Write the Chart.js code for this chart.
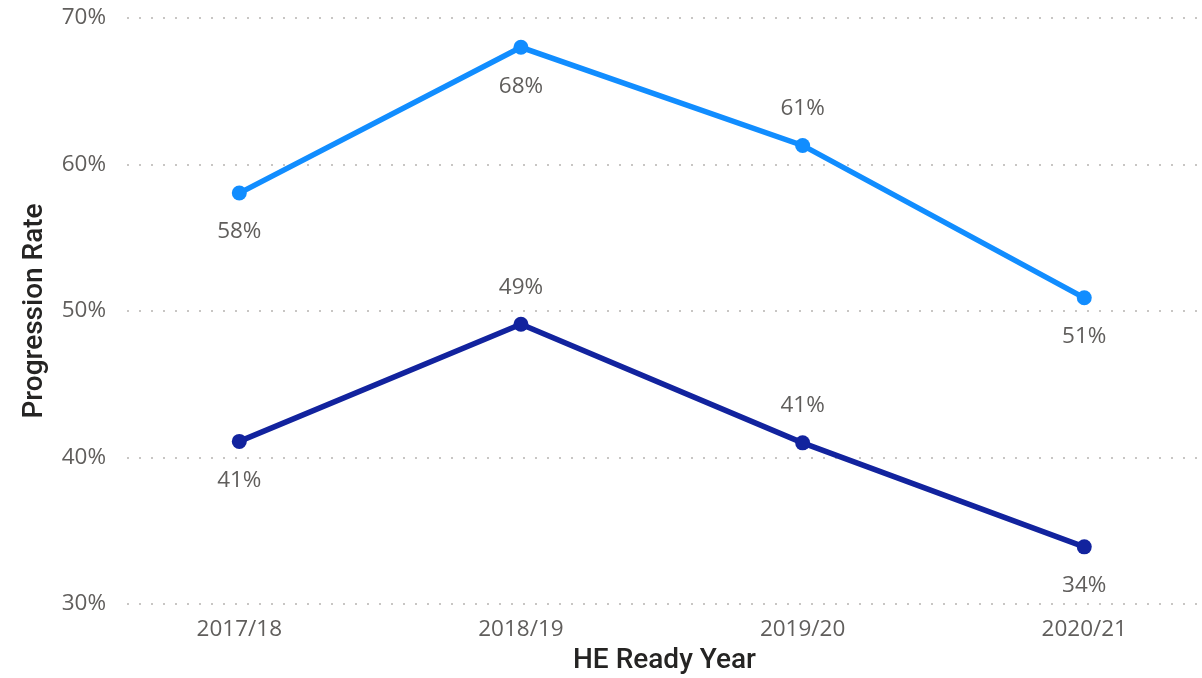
<!DOCTYPE html>
<html>
<head>
<meta charset="utf-8">
<script src="https://cdn.jsdelivr.net/npm/chart.js@4"></script>
<style>
  html, body { margin: 0; padding: 0; background: #fff; overflow: hidden; }
  #wrap { width: 1202px; height: 678px; position: relative; }
  #progressionChart { display: block; }
</style>
</head>
<body>
<div id="wrap"><canvas id="progressionChart"></canvas></div>
<script>
// Data for the chart
const years = ['2017/18', '2018/19', '2019/20', '2020/21'];
const upperSeries = [58.05, 68.0, 61.3, 50.9];
const lowerSeries = [41.1, 49.1, 41.0, 33.9];
const yTicks = [30, 40, 50, 60, 70];

// where each value label sits relative to its point
const upperLabelSide = ['below', 'below', 'above', 'below'];
const lowerLabelSide = ['below', 'above', 'above', 'below'];

const FONT = "'Open Sans', 'DejaVu Sans', sans-serif";
const TITLE_FONT = "Roboto, 'Open Sans', sans-serif";
const GREY = '#605E5C';

// draws "58%" style labels next to each point
const valueLabels = {
    id: 'valueLabels',
    afterDatasetsDraw(chart) {
        const ctx = chart.ctx;
        ctx.save();
        ctx.font = '22.5px ' + FONT;
        ctx.fillStyle = GREY;
        ctx.textAlign = 'center';
        ctx.textBaseline = 'middle';
        chart.data.datasets.forEach((ds, i) => {
            const meta = chart.getDatasetMeta(i);
            meta.data.forEach((pt, j) => {
                const dy = ds.labelSide[j] === 'above' ? -37 : 39;
                ctx.fillText(Math.round(ds.data[j].y) + '%', pt.x, pt.y + dy);
            });
        });
        ctx.restore();
    }
};

function toPoints(values) {
    return values.map((v, i) => ({ x: i, y: v }));
}

function createLineChart() {
    const ctx = document.getElementById('progressionChart').getContext('2d');
    new Chart(ctx, {
        type: 'line',
        data: {
            datasets: [
                {
                    label: 'Upper',
                    data: toPoints(upperSeries),
                    labelSide: upperLabelSide,
                    borderColor: '#118DFF',
                    backgroundColor: '#118DFF',
                    borderWidth: 5.5,
                    pointRadius: 7.5,
                    pointBorderWidth: 0
                },
                {
                    label: 'Lower',
                    data: toPoints(lowerSeries),
                    labelSide: lowerLabelSide,
                    borderColor: '#12239E',
                    backgroundColor: '#12239E',
                    borderWidth: 5.5,
                    pointRadius: 7.5,
                    pointBorderWidth: 0
                }
            ]
        },
        options: {
            responsive: true,
            maintainAspectRatio: false,
            animation: false,
            layout: { autoPadding: false, padding: { top: 18, right: 0, bottom: 0, left: 0 } },
            plugins: {
                legend: { display: false },
                tooltip: { enabled: false }
            },
            scales: {
                x: {
                    type: 'linear',
                    min: -0.3987,
                    max: 3.418,
                    grid: { display: false, drawTicks: false },
                    border: { display: false },
                    afterFit: (s) => { s.height = 74; s.paddingLeft = 0; s.paddingRight = 0; },
                    ticks: {
                        stepSize: 1,
                        includeBounds: false,
                        padding: 12,
                        color: GREY,
                        font: { family: FONT, size: 22.5 },
                        callback: (v) => years[v] ?? ''
                    },
                    title: {
                        display: true,
                        text: 'HE Ready Year',
                        color: '#252423',
                        font: { family: TITLE_FONT, size: 28, weight: '500' },
                        padding: { top: 0, bottom: 0 }
                    }
                },
                y: {
                    min: yTicks[0],
                    max: yTicks[yTicks.length - 1],
                    afterFit: (s) => { s.width = 127; s.paddingTop = 0; s.paddingBottom = 0; },
                    afterBuildTicks: (s) => { s.ticks = yTicks.map(v => ({ value: v })); },
                    grid: {
                        drawTicks: false,
                        color: '#C8C6C4',
                        lineWidth: 2
                    },
                    border: { display: false, dash: [2, 10] },
                    ticks: {
                        padding: 21,
                        color: GREY,
                        font: { family: FONT, size: 22.5 },
                        callback: (v) => v + '%'
                    },
                    title: {
                        display: true,
                        text: 'Progression Rate',
                        color: '#252423',
                        font: { family: TITLE_FONT, size: 28, weight: '500' },
                        padding: { top: 18, bottom: 0 }
                    }
                }
            }
        },
        plugins: [valueLabels]
    });
}

window.addEventListener('load', () => {
    createLineChart();
});
</script>
</body>
</html>
